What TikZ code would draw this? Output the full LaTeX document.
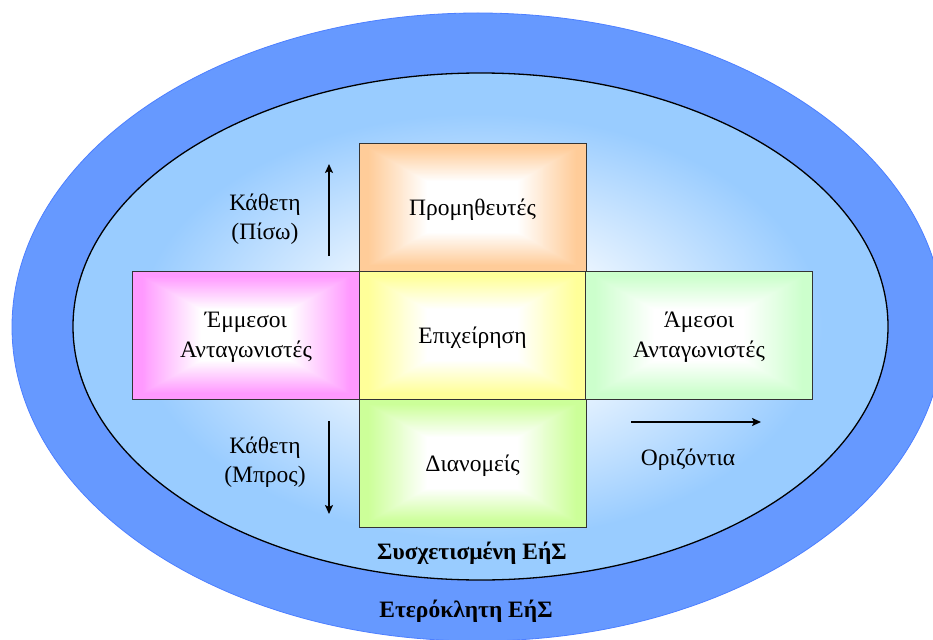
\documentclass[tikz,border=0pt]{standalone}
\usepackage{fontspec}
\setmainfont{Liberation Serif}
\usetikzlibrary{calc,arrows.meta}

\definecolor{ringblue}{HTML}{6699FF}
\definecolor{ringedge}{HTML}{4D7FFF}
\definecolor{skyin}{HTML}{99CCFF}
\definecolor{cOrange}{HTML}{FFCC99}
\definecolor{cMagenta}{HTML}{FF99FF}
\definecolor{cYellow}{HTML}{FFFF99}
\definecolor{cMint}{HTML}{CCFFCC}
\definecolor{cLime}{HTML}{CCFF99}

% soft white glow in the middle of the inner field
\pgfdeclareradialshading{innerglow}{\pgfpoint{0bp}{0bp}}{%
  color(0bp)=(white); color(5bp)=(white); color(21bp)=(skyin); color(50bp)=(skyin)}

\tikzset{
  txt/.style={font=\fontsize{23.5}{29}\selectfont, align=center, inner sep=0pt},
  boldtxt/.style={font=\fontsize{23.5}{29}\selectfont\bfseries, inner sep=0pt},
  % box filled with a colour that fades to white towards its centre
  gbox/.style={draw=black!80, line width=0.9pt, minimum width=227pt,
    minimum height=128pt, inner sep=0pt, align=center, text depth=0pt,
    font=\fontsize{23.5}{30}\selectfont,
    path picture={
      \fill[#1] (path picture bounding box.south west) rectangle
                (path picture bounding box.north east);
      \foreach \k in {0,...,60}{
        \pgfmathsetmacro\gs{0.92-0.52*\k/60}
        \pgfmathsetmacro\gp{100-100*\k/60}
        \fill[#1!\gp!white]
          ($(path picture bounding box.center)!\gs!(path picture bounding box.south west)$)
          rectangle
          ($(path picture bounding box.center)!\gs!(path picture bounding box.north east)$);
      }
    }},
  flow/.style={line width=2.8pt, -{Stealth[length=9pt,width=8pt,inset=2pt]}},
}

\begin{document}
\begin{tikzpicture}[x=1pt, y=-1pt]
\useasboundingbox (0,0) rectangle (933,639);

% outer ring and inner field
\fill[ringblue, draw=ringedge, line width=0.8pt]
  (478,327) ellipse [x radius=466pt, y radius=314pt];
\shade[shading=innerglow]
  (480.5,326.5) ellipse [x radius=407.5pt, y radius=253.5pt];
\draw[black, line width=1.3pt]
  (480.5,326.5) ellipse [x radius=407.5pt, y radius=253.5pt];

% the five boxes
\node[gbox=cOrange]  (supp) at (472.5,207) {Προμηθευτές};
\node[gbox=cMagenta] (indc) at (246,335)   {Έμμεσοι\\Ανταγωνιστές};
\node[gbox=cYellow]  (firm) at (472.5,335) {Επιχείρηση};
\node[gbox=cMint]    (dirc) at (699,335)   {Άμεσοι\\Ανταγωνιστές};
\node[gbox=cLime]    (dist) at (472.5,463) {Διανομείς};

% direction arrows
\coordinate (upS) at (329,256);
\coordinate (upE) at (329,164);
\coordinate (dnS) at (329,421);
\coordinate (dnE) at (329,514);
\coordinate (hzS) at (631,422);
\coordinate (hzE) at (761,422);
\draw[flow] (upS) -- (upE);
\draw[flow] (dnS) -- (dnE);
\draw[flow] (hzS) -- (hzE);

% labels
\node[txt, text depth=0pt] (vback) at (265,217) {Κάθετη\\(Πίσω)};
\node[txt, text depth=0pt] (vfwd)  at (265,460) {Κάθετη\\(Μπρος)};
\node[txt] (horiz) at (688,460) {Οριζόντια};
\node[boldtxt] (related) at (472,553.5) {Συσχετισμένη ΕήΣ};
\node[boldtxt] (distant) at (466,611.5) {Ετερόκλητη ΕήΣ};
\end{tikzpicture}
\end{document}
